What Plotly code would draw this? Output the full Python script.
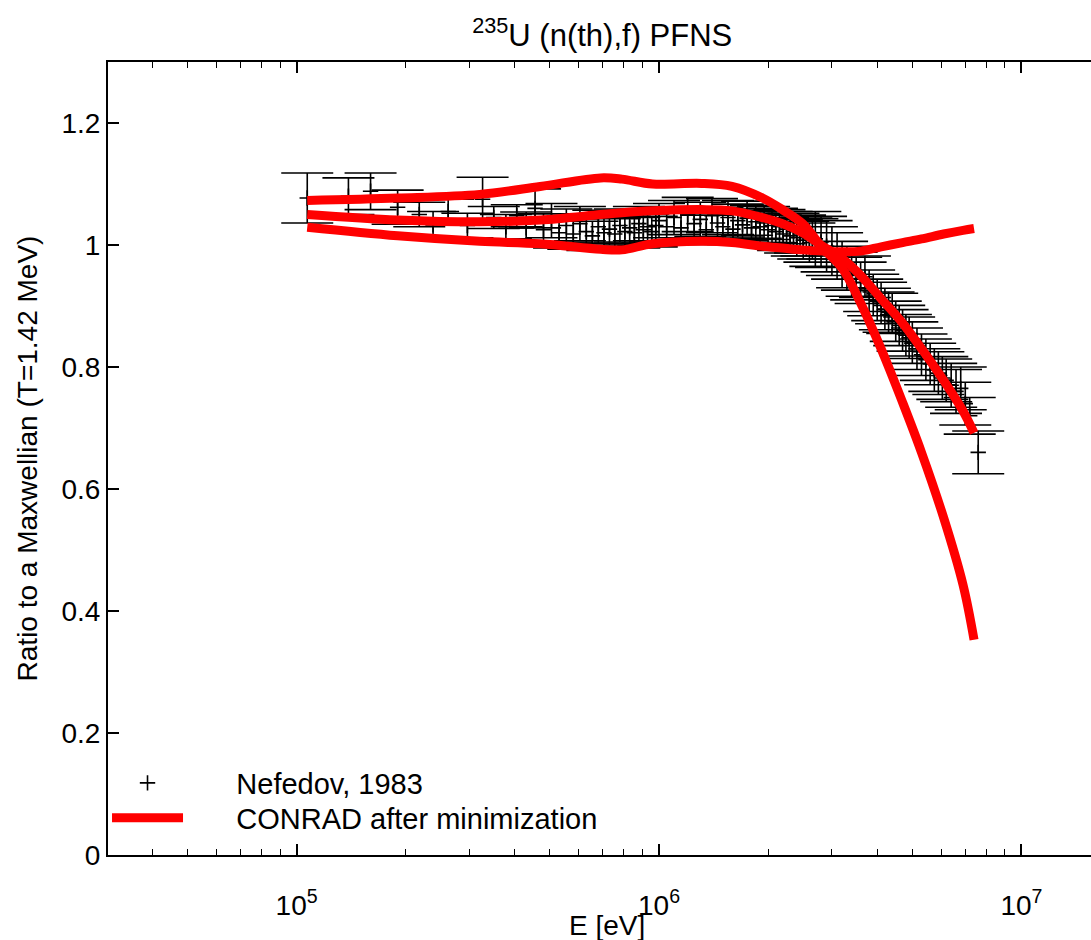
import plotly.graph_objects as go

# ---------------- data ----------------
# Nefedov, 1983 : neutron energy [MeV], ratio to Maxwellian, 1-sigma uncertainty
E_MeV = [
    0.107, 0.139, 0.160, 0.190, 0.218, 0.238, 0.262, 0.296, 0.326, 0.350, 0.378, 0.405,
    0.430, 0.455, 0.480, 0.505, 0.530, 0.555, 0.580, 0.605, 0.630, 0.655, 0.680, 0.705,
    0.730, 0.755, 0.780, 0.805, 0.830, 0.855, 0.880, 0.905, 0.930, 0.955, 0.980,
    1.00, 1.05, 1.10, 1.15, 1.20, 1.25, 1.30, 1.35, 1.40, 1.45, 1.50, 1.55, 1.60, 1.65,
    1.70, 1.75, 1.80, 1.85, 1.90, 1.95, 2.00, 2.05, 2.10, 2.15, 2.20, 2.25, 2.30, 2.35,
    2.40, 2.45, 2.50, 2.55, 2.60, 2.65,
    2.70, 2.80, 2.90, 3.00, 3.10, 3.20, 3.30, 3.40, 3.50, 3.60, 3.70, 3.80, 3.90, 4.00,
    4.10, 4.20, 4.30, 4.40, 4.50, 4.60, 4.70, 4.80, 4.90, 5.00, 5.15, 5.30, 5.45, 5.60,
    5.75, 5.90, 6.05, 6.20, 6.40, 6.60, 6.80, 7.00, 7.20, 7.60,
]
ratio = [
    1.077, 1.080, 1.088, 1.062, 1.050, 1.033, 1.055, 1.032, 1.075, 1.045, 1.030, 1.048,
    1.028, 1.060, 1.025, 1.040, 1.020, 1.032, 1.018, 1.035, 1.022, 1.015, 1.030, 1.020,
    1.026, 1.018, 1.032, 1.022, 1.028, 1.020, 1.035, 1.025, 1.030, 1.022, 1.032,
    1.040, 1.030, 1.045, 1.028, 1.050, 1.035, 1.042, 1.025, 1.048, 1.036, 1.030, 1.045,
    1.026, 1.040, 1.033, 1.044, 1.028, 1.038, 1.030, 1.036, 1.025, 1.032, 1.022, 1.030,
    1.018, 1.026, 1.015, 1.022, 1.012, 1.018, 1.008, 1.014, 1.004, 1.010,
    1.010, 1.005, 0.998, 0.990, 0.982, 0.968, 0.962, 0.952, 0.945, 0.938, 0.948, 0.925,
    0.918, 0.910, 0.905, 0.895, 0.890, 0.888, 0.875, 0.868, 0.860, 0.852, 0.848, 0.840,
    0.830, 0.820, 0.812, 0.805, 0.795, 0.790, 0.782, 0.778, 0.770, 0.760, 0.765, 0.740,
    0.720, 0.660,
]
ratio_err = [
    0.041, 0.030, 0.030, 0.028, 0.020, 0.022, 0.020, 0.020, 0.036, 0.018, 0.020, 0.018,
    0.026, 0.032, 0.026, 0.028, 0.025, 0.027, 0.025, 0.028, 0.025, 0.024, 0.027, 0.025,
    0.026, 0.025, 0.027, 0.025, 0.026, 0.025, 0.028, 0.026, 0.027, 0.025, 0.027,
    0.028, 0.025, 0.028, 0.025, 0.028, 0.025, 0.028, 0.024, 0.028, 0.026, 0.025, 0.028,
    0.025, 0.027, 0.026, 0.028, 0.026, 0.027, 0.026, 0.027, 0.026, 0.028, 0.027, 0.028,
    0.027, 0.029, 0.028, 0.030, 0.030, 0.031, 0.031, 0.032, 0.032, 0.033,
    0.045, 0.042, 0.042, 0.040, 0.038, 0.038, 0.036, 0.036, 0.035, 0.034, 0.034, 0.034,
    0.034, 0.034, 0.034, 0.034, 0.033, 0.033, 0.033, 0.033, 0.034, 0.034, 0.034, 0.034,
    0.034, 0.034, 0.034, 0.034, 0.035, 0.035, 0.035, 0.035, 0.036, 0.036, 0.035, 0.035,
    0.030, 0.035,
]

# CONRAD after minimization : central curve and the two uncertainty curves
curve_E_MeV = [0.107, 0.19, 0.32, 0.47, 0.69, 0.79, 0.96, 1.31, 1.59, 1.93, 2.19, 2.49,
               2.83, 3.20, 3.60, 4.10, 4.70, 5.30, 6.10, 6.90, 7.40]
curve_high = [1.073, 1.077, 1.083, 1.096, 1.110, 1.108, 1.100, 1.101, 1.096, 1.077, 1.058,
              1.035, 0.995, 0.962, 0.905, 0.830, 0.742, 0.660, 0.553, 0.443, 0.353]
curve_mid = [1.050, 1.041, 1.038, 1.041, 1.050, 1.053, 1.056, 1.058, 1.056, 1.045, 1.035,
             1.020, 0.998, 0.978, 0.950, 0.912, 0.872, 0.830, 0.778, 0.728, 0.692]
curve_low = [1.029, 1.015, 1.006, 1.002, 0.993, 0.992, 1.002, 1.006, 1.004, 0.998, 0.995,
             0.992, 0.990, 0.989, 0.990, 0.997, 1.004, 1.010, 1.018, 1.024, 1.027]

x_tick_vals = [1e5, 1e6, 1e7]
x_tick_text = ["10<sup>5</sup>", "10<sup>6</sup>", "10<sup>7</sup>"]
x_minor_vals = [m * d for d in (1e4, 1e5, 1e6, 1e7) for m in range(2, 10)]
y_tick_vals = [0, 0.2, 0.4, 0.6, 0.8, 1.0, 1.2]

# ---------------- figure ----------------
E_eV = [e * 1e6 for e in E_MeV]
curve_E_eV = [e * 1e6 for e in curve_E_MeV]

FONT = "Liberation Sans, Arial, sans-serif"
RED = "#ff0000"
PAD = "\u00a0" * 6

fig = go.Figure()

fig.add_trace(go.Scatter(
    x=E_eV, y=ratio, mode="markers", showlegend=False,
    marker=dict(symbol="cross-thin", size=11, color="black",
                line=dict(color="black", width=1.6)),
    error_y=dict(type="data", array=ratio_err, visible=True,
                 color="black", thickness=1.6, width=26),
))

for cv in (curve_high, curve_mid, curve_low):
    fig.add_trace(go.Scatter(
        x=curve_E_eV, y=cv, mode="lines", line=dict(color=RED, width=9, shape="spline"),
        showlegend=False,
    ))

# legend entries
fig.add_trace(go.Scatter(
    x=[None], y=[None], mode="markers", name=PAD + "Nefedov, 1983", legend="legend",
    marker=dict(symbol="cross-thin", size=11, color="black",
                line=dict(color="black", width=1.6)),
))
fig.add_trace(go.Scatter(
    x=[None], y=[None], mode="lines", name=PAD + "CONRAD after minimization",
    legend="legend2", line=dict(color=RED, width=9),
))

legend_common = dict(xref="paper", yref="paper", xanchor="left", yanchor="middle",
                     bgcolor="rgba(0,0,0,0)", font=dict(size=29), itemwidth=71)

fig.update_layout(
    width=1091, height=940,
    margin=dict(l=108, r=0, t=62, b=85),
    paper_bgcolor="white", plot_bgcolor="white",
    font=dict(family=FONT, size=28, color="black"),
    title=dict(text="<sup>235</sup>U (n(th),f) PFNS", x=0.552, xanchor="center",
               y=0.963, yanchor="middle", font=dict(size=31)),
    showlegend=True,
    legend=dict(x=-0.001, y=0.0908, **legend_common),
    legend2=dict(x=-0.001, y=0.0467, **legend_common),
    annotations=[dict(text="E [eV]", xref="paper", yref="paper", x=0.5076, y=-0.0883,
                      xanchor="center", yanchor="middle", showarrow=False,
                      font=dict(size=28))],
)

fig.update_xaxes(
    type="log", range=[4.4796, 7.192],
    showline=True, linecolor="black", linewidth=2, mirror="allticks",
    ticks="inside", ticklen=11, tickwidth=1.6, tickcolor="black",
    tickmode="array", tickvals=x_tick_vals, ticktext=x_tick_text,
    ticklabelstandoff=24,
    minor=dict(ticks="inside", ticklen=6, tickwidth=1.4, tickcolor="black",
               tickmode="array", tickvals=x_minor_vals, showgrid=False),
    showgrid=False, zeroline=False,
)
fig.update_yaxes(
    range=[0, 1.3],
    showline=True, linecolor="black", linewidth=2, mirror=False,
    ticks="inside", ticklen=11, tickwidth=1.6, tickcolor="black",
    tickmode="array", tickvals=y_tick_vals,
    showgrid=False, zeroline=False,
    title=dict(text="Ratio to a Maxwellian (T=1.42 MeV)", standoff=16, font=dict(size=28)),
)

fig.write_html("out.html")
